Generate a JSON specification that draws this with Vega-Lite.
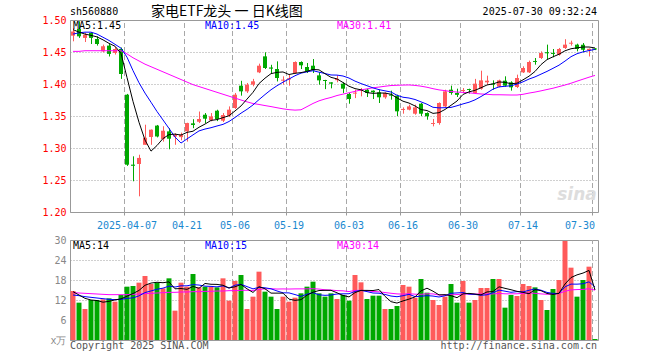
{
"$schema":"https://vega.github.io/schema/vega-lite/v6.json",
"width":528,"height":320,
"autosize":{"type":"none"},
"padding":{"left":70,"top":20,"right":62,"bottom":20},
"background":"white",
"config":{"view":{"stroke":null},"text":{"font":"DejaVu Sans Mono","fontSize":10}},
"datasets":{"k":[
{"d":"2025-03-24","o":1.4755,"h":1.4875,"l":1.4667,"c":1.482,"m5":1.485,"m10":1.478,"m30":1.451,"v":14.7,"v5":14.5,"v10":13.5,"v30":14.2},
{"d":"2025-03-25","o":1.486,"h":1.498,"l":1.472,"c":1.4745,"m5":1.481,"m10":1.48,"m30":1.451,"v":11.2,"v5":13.5,"v10":13.3,"v30":14.1},
{"d":"2025-03-26","o":1.472,"h":1.48,"l":1.4656,"c":1.477,"m5":1.478,"m10":1.481,"m30":1.452,"v":9.3,"v5":12.5,"v10":13.0,"v30":14.0},
{"d":"2025-03-27","o":1.48,"h":1.481,"l":1.4625,"c":1.472,"m5":1.476,"m10":1.481,"m30":1.452,"v":12,"v5":12,"v10":12.8,"v30":13.9},
{"d":"2025-03-28","o":1.4703,"h":1.4745,"l":1.46,"c":1.4625,"m5":1.4736,"m10":1.478,"m30":1.452,"v":12,"v5":11.84,"v10":12.6,"v30":13.8},
{"d":"2025-03-31","o":1.451,"h":1.4615,"l":1.4495,"c":1.459,"m5":1.469,"m10":1.473,"m30":1.452,"v":12.2,"v5":11.34,"v10":12.4,"v30":13.7},
{"d":"2025-04-01","o":1.46,"h":1.4625,"l":1.443,"c":1.447,"m5":1.4635,"m10":1.468,"m30":1.452,"v":12.5,"v5":11.6,"v10":12.2,"v30":13.6},
{"d":"2025-04-02","o":1.4485,"h":1.458,"l":1.446,"c":1.4547,"m5":1.459,"m10":1.462,"m30":1.452,"v":11.5,"v5":12.04,"v10":12.1,"v30":13.6},
{"d":"2025-04-03","o":1.4547,"h":1.457,"l":1.408,"c":1.4156,"m5":1.4478,"m10":1.456,"m30":1.452,"v":13.5,"v5":12.34,"v10":12.2,"v30":13.6},
{"d":"2025-04-07","o":1.3833,"h":1.3845,"l":1.272,"c":1.2739,"m5":1.4101,"m10":1.4419,"m30":1.447,"v":16,"v5":13.14,"v10":12.49,"v30":13.6},
{"d":"2025-04-08","o":1.274,"h":1.287,"l":1.248,"c":1.2722,"m5":1.3728,"m10":1.4209,"m30":1.441,"v":16.2,"v5":13.94,"v10":12.64,"v30":13.7},
{"d":"2025-04-09","o":1.275,"h":1.2895,"l":1.2245,"c":1.2845,"m5":1.3402,"m10":1.4019,"m30":1.436,"v":17.2,"v5":14.88,"v10":13.24,"v30":13.8},
{"d":"2025-04-10","o":1.305,"h":1.3364,"l":1.305,"c":1.316,"m5":1.3125,"m10":1.3858,"m30":1.431,"v":19.2,"v5":16.42,"v10":14.23,"v30":13.9},
{"d":"2025-04-11","o":1.3172,"h":1.329,"l":1.305,"c":1.3286,"m5":1.2951,"m10":1.3715,"m30":1.427,"v":16.8,"v5":17.08,"v10":14.71,"v30":14.0},
{"d":"2025-04-14","o":1.335,"h":1.336,"l":1.3166,"c":1.318,"m5":1.3039,"m10":1.357,"m30":1.423,"v":17.2,"v5":17.32,"v10":15.23,"v30":14.1},
{"d":"2025-04-15","o":1.314,"h":1.334,"l":1.31,"c":1.327,"m5":1.3148,"m10":1.3438,"m30":1.419,"v":15.5,"v5":17.18,"v10":15.56,"v30":14.2},
{"d":"2025-04-16","o":1.326,"h":1.331,"l":1.298,"c":1.3145,"m5":1.3209,"m10":1.3306,"m30":1.415,"v":18.5,"v5":17.44,"v10":16.16,"v30":14.3},
{"d":"2025-04-17","o":1.318,"h":1.323,"l":1.305,"c":1.3205,"m5":1.3217,"m10":1.3171,"m30":1.411,"v":8.8,"v5":15.36,"v10":15.89,"v30":14.3},
{"d":"2025-04-18","o":1.317,"h":1.324,"l":1.312,"c":1.321,"m5":1.3202,"m10":1.3077,"m30":1.407,"v":17.2,"v5":15.44,"v10":16.26,"v30":14.4},
{"d":"2025-04-21","o":1.326,"h":1.3395,"l":1.31,"c":1.339,"m5":1.3244,"m10":1.3142,"m30":1.403,"v":16,"v5":15.2,"v10":16.26,"v30":14.4},
{"d":"2025-04-22","o":1.3385,"h":1.345,"l":1.331,"c":1.336,"m5":1.3262,"m10":1.3205,"m30":1.399,"v":19.8,"v5":16.06,"v10":16.62,"v30":14.5},
{"d":"2025-04-23","o":1.341,"h":1.357,"l":1.339,"c":1.3453,"m5":1.3324,"m10":1.3267,"m30":1.396,"v":15.8,"v5":15.52,"v10":16.48,"v30":14.5},
{"d":"2025-04-24","o":1.352,"h":1.3546,"l":1.339,"c":1.3458,"m5":1.3374,"m10":1.3296,"m30":1.393,"v":16,"v5":16.96,"v10":16.16,"v30":14.6},
{"d":"2025-04-25","o":1.3432,"h":1.3546,"l":1.3417,"c":1.3494,"m5":1.3431,"m10":1.3317,"m30":1.39,"v":16,"v5":16.72,"v10":16.08,"v30":14.6},
{"d":"2025-04-28","o":1.3583,"h":1.3598,"l":1.342,"c":1.3453,"m5":1.3444,"m10":1.3344,"m30":1.387,"v":15.8,"v5":16.68,"v10":15.94,"v30":14.7},
{"d":"2025-04-29","o":1.3427,"h":1.3546,"l":1.3406,"c":1.3515,"m5":1.3475,"m10":1.3369,"m30":1.384,"v":18.5,"v5":16.42,"v10":16.24,"v30":14.7},
{"d":"2025-04-30","o":1.3505,"h":1.365,"l":1.3484,"c":1.3599,"m5":1.3504,"m10":1.3414,"m30":1.381,"v":11.8,"v5":15.62,"v10":15.57,"v30":14.8},
{"d":"2025-05-06","o":1.3625,"h":1.386,"l":1.361,"c":1.3833,"m5":1.3579,"m10":1.3477,"m30":1.378,"v":17.7,"v5":15.96,"v10":16.46,"v30":14.8},
{"d":"2025-05-07","o":1.3974,"h":1.405,"l":1.3818,"c":1.3885,"m5":1.3657,"m10":1.3544,"m30":1.375,"v":19.5,"v5":16.66,"v10":16.69,"v30":14.9},
{"d":"2025-05-08","o":1.3885,"h":1.4016,"l":1.386,"c":1.399,"m5":1.3764,"m10":1.3604,"m30":1.3721,"v":9.3,"v5":15.36,"v10":16.02,"v30":14.92},
{"d":"2025-05-09","o":1.399,"h":1.408,"l":1.3964,"c":1.4042,"m5":1.387,"m10":1.3673,"m30":1.3695,"v":13,"v5":14.26,"v10":15.34,"v30":14.87},
{"d":"2025-05-12","o":1.4182,"h":1.4318,"l":1.417,"c":1.4286,"m5":1.4007,"m10":1.3756,"m30":1.368,"v":20.5,"v5":16,"v10":15.81,"v30":15.18},
{"d":"2025-05-13","o":1.4432,"h":1.4495,"l":1.4234,"c":1.425,"m5":1.4091,"m10":1.3835,"m30":1.3663,"v":14.5,"v5":15.36,"v10":15.66,"v30":15.35},
{"d":"2025-05-14","o":1.4258,"h":1.43,"l":1.417,"c":1.424,"m5":1.4162,"m10":1.391,"m30":1.3647,"v":13,"v5":14.06,"v10":15.36,"v30":15.38},
{"d":"2025-05-15","o":1.4234,"h":1.4354,"l":1.404,"c":1.4094,"m5":1.4182,"m10":1.3973,"m30":1.3629,"v":9.3,"v5":14.06,"v10":14.71,"v30":15.29},
{"d":"2025-05-16","o":1.4052,"h":1.412,"l":1.399,"c":1.4068,"m5":1.4188,"m10":1.4029,"m30":1.3612,"v":13,"v5":14.06,"v10":14.16,"v30":15.32},
{"d":"2025-05-19","o":1.407,"h":1.4146,"l":1.3974,"c":1.409,"m5":1.4148,"m10":1.4078,"m30":1.3599,"v":11.5,"v5":12.26,"v10":14.13,"v30":15.29},
{"d":"2025-05-20","o":1.4172,"h":1.4354,"l":1.4161,"c":1.4344,"m5":1.4167,"m10":1.4129,"m30":1.3592,"v":12.7,"v5":11.9,"v10":13.63,"v30":15.33},
{"d":"2025-05-21","o":1.4344,"h":1.4354,"l":1.4234,"c":1.4292,"m5":1.4178,"m10":1.417,"m30":1.3597,"v":14,"v5":12.1,"v10":13.08,"v30":15.34},
{"d":"2025-05-22","o":1.4266,"h":1.4328,"l":1.4172,"c":1.4198,"m5":1.4198,"m10":1.419,"m30":1.3646,"v":16,"v5":13.44,"v10":13.75,"v30":15.34},
{"d":"2025-05-23","o":1.4286,"h":1.439,"l":1.4172,"c":1.4213,"m5":1.4227,"m10":1.4208,"m30":1.3696,"v":17.5,"v5":14.34,"v10":14.2,"v30":15.39},
{"d":"2025-05-26","o":1.4135,"h":1.4187,"l":1.399,"c":1.4057,"m5":1.4221,"m10":1.4185,"m30":1.3737,"v":14,"v5":14.84,"v10":13.55,"v30":15.28},
{"d":"2025-05-27","o":1.4062,"h":1.4065,"l":1.392,"c":1.4047,"m5":1.4161,"m10":1.4164,"m30":1.3766,"v":13,"v5":14.9,"v10":13.4,"v30":15.07},
{"d":"2025-05-28","o":1.4026,"h":1.4026,"l":1.3932,"c":1.4005,"m5":1.4104,"m10":1.4141,"m30":1.379,"v":14,"v5":14.9,"v10":13.5,"v30":14.98},
{"d":"2025-05-29","o":1.406,"h":1.4135,"l":1.4026,"c":1.408,"m5":1.408,"m10":1.4139,"m30":1.382,"v":12.3,"v5":14.16,"v10":13.8,"v30":14.82},
{"d":"2025-05-30","o":1.4005,"h":1.4026,"l":1.386,"c":1.3927,"m5":1.4023,"m10":1.4125,"m30":1.3842,"v":13.5,"v5":13.36,"v10":13.85,"v30":14.75},
{"d":"2025-06-03","o":1.3844,"h":1.386,"l":1.3692,"c":1.3765,"m5":1.3965,"m10":1.4093,"m30":1.3863,"v":11.8,"v5":12.92,"v10":13.88,"v30":14.53},
{"d":"2025-06-04","o":1.385,"h":1.3911,"l":1.378,"c":1.3865,"m5":1.3928,"m10":1.4045,"m30":1.3885,"v":19.5,"v5":14.22,"v10":14.56,"v30":14.88},
{"d":"2025-06-05","o":1.3895,"h":1.3937,"l":1.3807,"c":1.391,"m5":1.3909,"m10":1.4007,"m30":1.3908,"v":17.3,"v5":14.88,"v10":14.89,"v30":14.89},
{"d":"2025-06-06","o":1.3911,"h":1.3927,"l":1.3797,"c":1.386,"m5":1.3865,"m10":1.3973,"m30":1.3924,"v":12.3,"v5":14.88,"v10":14.52,"v30":14.76},
{"d":"2025-06-09","o":1.3896,"h":1.39,"l":1.3765,"c":1.387,"m5":1.3854,"m10":1.3939,"m30":1.3941,"v":13.3,"v5":14.84,"v10":14.1,"v30":14.55},
{"d":"2025-06-10","o":1.387,"h":1.3911,"l":1.3703,"c":1.3792,"m5":1.3859,"m10":1.3912,"m30":1.3952,"v":13.3,"v5":15.14,"v10":14.03,"v30":14.46},
{"d":"2025-06-11","o":1.3792,"h":1.387,"l":1.377,"c":1.386,"m5":1.3858,"m10":1.3893,"m30":1.3965,"v":9.3,"v5":13.1,"v10":13.66,"v30":14.24},
{"d":"2025-06-12","o":1.3835,"h":1.3896,"l":1.3755,"c":1.3818,"m5":1.384,"m10":1.3875,"m30":1.3976,"v":9.3,"v5":11.5,"v10":13.19,"v30":14.02},
{"d":"2025-06-13","o":1.3818,"h":1.3833,"l":1.35,"c":1.3573,"m5":1.3783,"m10":1.3824,"m30":1.398,"v":10.2,"v5":11.08,"v10":12.98,"v30":13.83},
{"d":"2025-06-16","o":1.3595,"h":1.3635,"l":1.3536,"c":1.361,"m5":1.3731,"m10":1.3793,"m30":1.3983,"v":16.5,"v5":11.72,"v10":13.28,"v30":13.76},
{"d":"2025-06-17","o":1.3599,"h":1.3677,"l":1.3588,"c":1.365,"m5":1.3702,"m10":1.3781,"m30":1.3985,"v":16,"v5":12.26,"v10":13.7,"v30":13.9},
{"d":"2025-06-18","o":1.3536,"h":1.3677,"l":1.352,"c":1.3635,"m5":1.3657,"m10":1.3758,"m30":1.3978,"v":12.7,"v5":12.94,"v10":13.02,"v30":13.74},
{"d":"2025-06-19","o":1.3692,"h":1.3703,"l":1.35,"c":1.3536,"m5":1.3601,"m10":1.3721,"m30":1.3966,"v":18.3,"v5":14.74,"v10":13.12,"v30":13.7},
{"d":"2025-06-20","o":1.3547,"h":1.3557,"l":1.3442,"c":1.3495,"m5":1.3585,"m10":1.3684,"m30":1.3949,"v":14.2,"v5":15.54,"v10":13.31,"v30":13.86},
{"d":"2025-06-23","o":1.3375,"h":1.3453,"l":1.3338,"c":1.339,"m5":1.3541,"m10":1.3636,"m30":1.3927,"v":12,"v5":14.64,"v10":13.18,"v30":13.83},
{"d":"2025-06-24","o":1.339,"h":1.3713,"l":1.3364,"c":1.3703,"m5":1.3552,"m10":1.3627,"m30":1.3908,"v":10.5,"v5":13.54,"v10":12.9,"v30":13.49},
{"d":"2025-06-25","o":1.365,"h":1.3911,"l":1.364,"c":1.3885,"m5":1.3602,"m10":1.363,"m30":1.3896,"v":13,"v5":13.6,"v10":13.27,"v30":13.44},
{"d":"2025-06-26","o":1.3911,"h":1.3974,"l":1.3833,"c":1.386,"m5":1.3667,"m10":1.3634,"m30":1.3883,"v":16.8,"v5":13.3,"v10":14.02,"v30":13.57},
{"d":"2025-06-27","o":1.386,"h":1.3927,"l":1.3797,"c":1.383,"m5":1.3734,"m10":1.366,"m30":1.3874,"v":11.2,"v5":12.7,"v10":14.12,"v30":13.63},
{"d":"2025-06-30","o":1.389,"h":1.3937,"l":1.386,"c":1.3906,"m5":1.3837,"m10":1.3689,"m30":1.3869,"v":17.7,"v5":13.84,"v10":14.24,"v30":13.79},
{"d":"2025-07-01","o":1.3921,"h":1.3927,"l":1.385,"c":1.3906,"m5":1.3877,"m10":1.3715,"m30":1.3863,"v":11.2,"v5":13.98,"v10":13.76,"v30":13.78},
{"d":"2025-07-02","o":1.386,"h":1.408,"l":1.385,"c":1.4005,"m5":1.3901,"m10":1.3752,"m30":1.3852,"v":12,"v5":13.78,"v10":13.69,"v30":13.76},
{"d":"2025-07-03","o":1.3927,"h":1.4208,"l":1.3911,"c":1.4057,"m5":1.3941,"m10":1.3804,"m30":1.3844,"v":15.6,"v5":13.54,"v10":13.42,"v30":13.81},
{"d":"2025-07-04","o":1.4026,"h":1.413,"l":1.399,"c":1.4052,"m5":1.3985,"m10":1.386,"m30":1.3839,"v":15.6,"v5":14.42,"v10":13.56,"v30":13.8},
{"d":"2025-07-07","o":1.4005,"h":1.4057,"l":1.3911,"c":1.399,"m5":1.4002,"m10":1.392,"m30":1.3832,"v":18.3,"v5":14.54,"v10":14.19,"v30":13.82},
{"d":"2025-07-08","o":1.3958,"h":1.4068,"l":1.3948,"c":1.4057,"m5":1.4032,"m10":1.3955,"m30":1.3832,"v":18.3,"v5":15.96,"v10":14.97,"v30":13.97},
{"d":"2025-07-09","o":1.4052,"h":1.412,"l":1.3958,"c":1.3974,"m5":1.4026,"m10":1.3964,"m30":1.383,"v":9.7,"v5":15.5,"v10":14.64,"v30":13.86},
{"d":"2025-07-10","o":1.4026,"h":1.4042,"l":1.3896,"c":1.3948,"m5":1.4004,"m10":1.3973,"m30":1.3828,"v":13.5,"v5":15.08,"v10":14.31,"v30":13.84},
{"d":"2025-07-11","o":1.3953,"h":1.4146,"l":1.3937,"c":1.4094,"m5":1.4013,"m10":1.3999,"m30":1.3828,"v":13.2,"v5":14.6,"v10":14.51,"v30":13.87},
{"d":"2025-07-14","o":1.4182,"h":1.4276,"l":1.4172,"c":1.425,"m5":1.4065,"m10":1.4034,"m30":1.3839,"v":16.8,"v5":14.3,"v10":14.42,"v30":13.98},
{"d":"2025-07-15","o":1.4182,"h":1.4365,"l":1.4172,"c":1.4344,"m5":1.4122,"m10":1.4077,"m30":1.3858,"v":16.2,"v5":13.88,"v10":14.92,"v30":14.13},
{"d":"2025-07-16","o":1.436,"h":1.4406,"l":1.4302,"c":1.4345,"m5":1.4196,"m10":1.4111,"m30":1.3874,"v":15.8,"v5":15.1,"v10":15.3,"v30":14.0},
{"d":"2025-07-17","o":1.4406,"h":1.451,"l":1.439,"c":1.4484,"m5":1.4303,"m10":1.4154,"m30":1.3893,"v":12,"v5":14.8,"v10":14.94,"v30":13.83},
{"d":"2025-07-18","o":1.4497,"h":1.4615,"l":1.439,"c":1.448,"m5":1.4381,"m10":1.4197,"m30":1.3914,"v":9,"v5":13.96,"v10":14.28,"v30":13.72},
{"d":"2025-07-21","o":1.4486,"h":1.4547,"l":1.4417,"c":1.447,"m5":1.4425,"m10":1.4245,"m30":1.3934,"v":15.3,"v5":13.66,"v10":13.98,"v30":13.78},
{"d":"2025-07-22","o":1.4458,"h":1.4563,"l":1.4443,"c":1.4547,"m5":1.4465,"m10":1.4294,"m30":1.3959,"v":18,"v5":14.02,"v10":13.95,"v30":13.94},
{"d":"2025-07-23","o":1.4563,"h":1.47,"l":1.4547,"c":1.4615,"m5":1.4519,"m10":1.4358,"m30":1.3984,"v":29.7,"v5":16.8,"v10":15.95,"v30":14.62},
{"d":"2025-07-24","o":1.463,"h":1.4677,"l":1.46,"c":1.4645,"m5":1.4551,"m10":1.4427,"m30":1.4012,"v":21.7,"v5":18.74,"v10":16.77,"v30":15.03},
{"d":"2025-07-25","o":1.4615,"h":1.463,"l":1.451,"c":1.4547,"m5":1.4565,"m10":1.4473,"m30":1.4044,"v":13,"v5":19.54,"v10":16.75,"v30":15.13},
{"d":"2025-07-28","o":1.4615,"h":1.464,"l":1.4495,"c":1.4536,"m5":1.4578,"m10":1.4502,"m30":1.4075,"v":18,"v5":20.08,"v10":16.87,"v30":15.18},
{"d":"2025-07-29","o":1.4525,"h":1.4555,"l":1.443,"c":1.455,"m5":1.4578,"m10":1.4522,"m30":1.4106,"v":22,"v5":20.88,"v10":17.45,"v30":15.38},
{"d":"2025-07-30","o":1.4555,"h":1.456,"l":1.453,"c":1.454,"m5":1.4563,"m10":1.4541,"m30":1.4134,"v":0.3,"v5":15,"v10":15.9,"v30":14.96}
]},
"data":{"name":"k"},
"resolve":{"scale":{"y":"independent"},"axis":{"x":"independent","y":"independent"}},
"layer":[
{"transform":[{"filter":{"field":"d","oneOf":["2025-04-07","2025-04-21","2025-05-06","2025-05-19","2025-06-03","2025-06-16","2025-06-30","2025-07-14","2025-07-30"]}}],
 "mark":{"type":"rule","strokeDash":[5,3],"color":"#a8a8a8","strokeWidth":1,"xOffset":0.5},
 "encoding":{
  "x":{"field":"d","type":"ordinal","bandPosition":0,"scale":{"paddingInner":0,"paddingOuter":0},
       "axis":{"orient":"bottom","offset":-128,"values":["2025-04-07","2025-04-21","2025-05-06","2025-05-19","2025-06-03","2025-06-16","2025-06-30","2025-07-14","2025-07-30"],"bandPosition":0,"labelExpr":"datum.value == '2025-04-07' ? datum.value : slice(datum.value, 5)","labelAngle":0,"labelColor":"#1a88d0","labelFont":"DejaVu Sans Mono","labelFontSize":10,"labelPadding":5,"labelFlush":7,"labelOverlap":false,"ticks":true,"tickSize":3,"tickColor":"#999","domain":true,"domainColor":"#999","grid":false,"title":null}},
  "y":{"datum":1.2,"type":"quantitative","scale":{"domain":[1.2,1.5],"range":[192,0],"nice":false,"zero":false},
       "axis":{"orient":"left","values":[1.2,1.25,1.3,1.35,1.4,1.45,1.5],"format":".2f","labelColor":"#ff0000","labelFont":"DejaVu Sans Mono","labelFontSize":10,"labelPadding":4,"ticks":false,"domain":true,"domainColor":"#999","grid":true,"gridColor":"#a0a0a0","gridDash":[1,2],"title":null}},
  "y2":{"datum":1.5}}},
{"mark":{"type":"rule","strokeWidth":1,"xOffset":0.5},
 "encoding":{
  "x":{"field":"d","type":"ordinal","scale":{"paddingInner":0,"paddingOuter":0},"axis":{"orient":"top","labels":false,"ticks":false,"domain":true,"domainColor":"#999","grid":false,"title":null}},
  "y":{"field":"l","type":"quantitative","scale":{"domain":[1.2,1.5],"range":[192,0],"nice":false,"zero":false},"axis":{"orient":"right","labels":false,"ticks":false,"domain":true,"domainColor":"#999","grid":false,"title":null}},
  "y2":{"field":"h"},
  "color":{"condition":{"test":"datum.c >= datum.o","value":"#ff5a5a"},"value":"#00a800"}}},
{"mark":{"type":"bar","width":{"band":0.67}},
 "encoding":{
  "x":{"field":"d","type":"ordinal","scale":{"paddingInner":0,"paddingOuter":0},"axis":null},
  "y":{"field":"o","type":"quantitative","scale":{"domain":[1.2,1.5],"range":[192,0],"nice":false,"zero":false},"axis":null},
  "y2":{"field":"c"},
  "color":{"condition":{"test":"datum.c >= datum.o","value":"#ff5a5a"},"value":"#00a800"}}},
{"mark":{"type":"line","strokeWidth":1,"color":"#ff00ff"},
 "encoding":{"x":{"field":"d","type":"ordinal","scale":{"paddingInner":0,"paddingOuter":0},"axis":null},
  "y":{"field":"m30","type":"quantitative","scale":{"domain":[1.2,1.5],"range":[192,0],"nice":false,"zero":false},"axis":null}}},
{"mark":{"type":"line","strokeWidth":1,"color":"#0000ff"},
 "encoding":{"x":{"field":"d","type":"ordinal","scale":{"paddingInner":0,"paddingOuter":0},"axis":null},
  "y":{"field":"m10","type":"quantitative","scale":{"domain":[1.2,1.5],"range":[192,0],"nice":false,"zero":false},"axis":null}}},
{"mark":{"type":"line","strokeWidth":1,"color":"#000000"},
 "encoding":{"x":{"field":"d","type":"ordinal","scale":{"paddingInner":0,"paddingOuter":0},"axis":null},
  "y":{"field":"m5","type":"quantitative","scale":{"domain":[1.2,1.5],"range":[192,0],"nice":false,"zero":false},"axis":null}}},
{"transform":[{"filter":{"field":"d","oneOf":["2025-04-07","2025-04-21","2025-05-06","2025-05-19","2025-06-03","2025-06-16","2025-06-30","2025-07-14","2025-07-30"]}}],
 "mark":{"type":"rule","strokeDash":[5,3],"color":"#a8a8a8","strokeWidth":1,"xOffset":0.5},
 "encoding":{
  "x":{"field":"d","type":"ordinal","bandPosition":0,"scale":{"paddingInner":0,"paddingOuter":0},"axis":{"orient":"bottom","labels":false,"ticks":false,"domain":true,"domainColor":"#999","grid":false,"title":null}},
  "y":{"datum":0,"type":"quantitative","scale":{"domain":[0,30],"range":[320,220],"nice":false,"zero":true},
       "axis":{"orient":"left","values":[0,6,12,18,24,30],"labelExpr":"datum.value == 0 ? 'x万' : datum.label","labelColor":"#888888","labelFont":"DejaVu Sans Mono","labelFontSize":10,"labelPadding":4,"ticks":false,"domain":true,"domainColor":"#999","grid":true,"gridColor":"#a0a0a0","gridDash":[1,2],"title":null}},
  "y2":{"datum":30}}},
{"mark":{"type":"bar","width":{"band":0.83}},
 "encoding":{
  "x":{"field":"d","type":"ordinal","scale":{"paddingInner":0,"paddingOuter":0},"axis":{"orient":"top","offset":-220,"labels":false,"ticks":false,"domain":true,"domainColor":"#999","grid":false,"title":null}},
  "y":{"field":"v","type":"quantitative","scale":{"domain":[0,30],"range":[320,220],"nice":false,"zero":true},"axis":{"orient":"right","labels":false,"ticks":false,"domain":true,"domainColor":"#999","grid":false,"title":null}},
  "color":{"condition":{"test":"datum.c >= datum.o","value":"#ff5a5a"},"value":"#00a800"}}},
{"mark":{"type":"line","strokeWidth":1,"color":"#ff00ff"},
 "encoding":{"x":{"field":"d","type":"ordinal","scale":{"paddingInner":0,"paddingOuter":0},"axis":null},
  "y":{"field":"v30","type":"quantitative","scale":{"domain":[0,30],"range":[320,220],"nice":false,"zero":true},"axis":null}}},
{"mark":{"type":"line","strokeWidth":1,"color":"#0000ff"},
 "encoding":{"x":{"field":"d","type":"ordinal","scale":{"paddingInner":0,"paddingOuter":0},"axis":null},
  "y":{"field":"v10","type":"quantitative","scale":{"domain":[0,30],"range":[320,220],"nice":false,"zero":true},"axis":null}}},
{"mark":{"type":"line","strokeWidth":1,"color":"#000000"},
 "encoding":{"x":{"field":"d","type":"ordinal","scale":{"paddingInner":0,"paddingOuter":0},"axis":null},
  "y":{"field":"v5","type":"quantitative","scale":{"domain":[0,30],"range":[320,220],"nice":false,"zero":true},"axis":null}}},
{"data":{"values":[{}]},"mark":{"type":"text","align":"left","baseline":"middle","dx":-3,"font":"DejaVu Sans Mono","fontSize":10,"color":"#000"},
 "encoding":{"x":{"datum":"2025-03-24","type":"ordinal","scale":{"paddingInner":0,"paddingOuter":0},"axis":null},
  "y":{"datum":1.5125,"type":"quantitative","scale":{"domain":[1.2,1.5],"range":[192,0],"nice":false,"zero":false},"axis":null},
  "text":{"value":"sh560880"}}},
{"data":{"values":[{}]},"mark":{"type":"text","align":"left","baseline":"middle","font":"Noto Sans CJK SC","fontSize":14,"color":"#000"},
 "encoding":{"x":{"datum":"2025-04-11","type":"ordinal","scale":{"paddingInner":0,"paddingOuter":0},"axis":null},
  "y":{"datum":1.5125,"type":"quantitative","scale":{"domain":[1.2,1.5],"range":[192,0],"nice":false,"zero":false},"axis":null},
  "text":{"value":"家电ETF龙头 一 日K线图"}}},
{"data":{"values":[{}]},"mark":{"type":"text","align":"right","baseline":"middle","dx":2,"font":"DejaVu Sans Mono","fontSize":10,"color":"#000"},
 "encoding":{"x":{"datum":"2025-07-30","type":"ordinal","scale":{"paddingInner":0,"paddingOuter":0},"axis":null},
  "y":{"datum":1.5125,"type":"quantitative","scale":{"domain":[1.2,1.5],"range":[192,0],"nice":false,"zero":false},"axis":null},
  "text":{"value":"2025-07-30 09:32:24"}}},
{"data":{"values":[{}]},"mark":{"type":"text","align":"left","baseline":"middle","font":"DejaVu Sans Mono","fontSize":10,"color":"#000000"},
 "encoding":{"x":{"datum":"2025-03-24","type":"ordinal","scale":{"paddingInner":0,"paddingOuter":0},"axis":null},
  "y":{"datum":1.4906,"type":"quantitative","scale":{"domain":[1.2,1.5],"range":[192,0],"nice":false,"zero":false},"axis":null},
  "text":{"value":"MA5:1.45"}}},
{"data":{"values":[{}]},"mark":{"type":"text","align":"left","baseline":"middle","font":"DejaVu Sans Mono","fontSize":10,"color":"#0000ff"},
 "encoding":{"x":{"datum":"2025-04-24","type":"ordinal","scale":{"paddingInner":0,"paddingOuter":0},"axis":null},
  "y":{"datum":1.4906,"type":"quantitative","scale":{"domain":[1.2,1.5],"range":[192,0],"nice":false,"zero":false},"axis":null},
  "text":{"value":"MA10:1.45"}}},
{"data":{"values":[{}]},"mark":{"type":"text","align":"left","baseline":"middle","font":"DejaVu Sans Mono","fontSize":10,"color":"#ff00ff"},
 "encoding":{"x":{"datum":"2025-05-29","type":"ordinal","scale":{"paddingInner":0,"paddingOuter":0},"axis":null},
  "y":{"datum":1.4906,"type":"quantitative","scale":{"domain":[1.2,1.5],"range":[192,0],"nice":false,"zero":false},"axis":null},
  "text":{"value":"MA30:1.41"}}},
{"data":{"values":[{}]},"mark":{"type":"text","align":"left","baseline":"middle","font":"DejaVu Sans Mono","fontSize":10,"color":"#000000"},
 "encoding":{"x":{"datum":"2025-03-24","type":"ordinal","scale":{"paddingInner":0,"paddingOuter":0},"axis":null},
  "y":{"datum":28.35,"type":"quantitative","scale":{"domain":[0,30],"range":[320,220],"nice":false,"zero":true},"axis":null},
  "text":{"value":"MA5:14"}}},
{"data":{"values":[{}]},"mark":{"type":"text","align":"left","baseline":"middle","font":"DejaVu Sans Mono","fontSize":10,"color":"#0000ff"},
 "encoding":{"x":{"datum":"2025-04-24","type":"ordinal","scale":{"paddingInner":0,"paddingOuter":0},"axis":null},
  "y":{"datum":28.35,"type":"quantitative","scale":{"domain":[0,30],"range":[320,220],"nice":false,"zero":true},"axis":null},
  "text":{"value":"MA10:15"}}},
{"data":{"values":[{}]},"mark":{"type":"text","align":"left","baseline":"middle","font":"DejaVu Sans Mono","fontSize":10,"color":"#ff00ff"},
 "encoding":{"x":{"datum":"2025-05-29","type":"ordinal","scale":{"paddingInner":0,"paddingOuter":0},"axis":null},
  "y":{"datum":28.35,"type":"quantitative","scale":{"domain":[0,30],"range":[320,220],"nice":false,"zero":true},"axis":null},
  "text":{"value":"MA30:14"}}},
{"data":{"values":[{}]},"mark":{"type":"text","align":"left","baseline":"middle","dx":-3,"font":"DejaVu Sans Mono","fontSize":10,"color":"#555555"},
 "encoding":{"x":{"datum":"2025-03-24","type":"ordinal","scale":{"paddingInner":0,"paddingOuter":0},"axis":null},
  "y":{"datum":-1.8,"type":"quantitative","scale":{"domain":[0,30],"range":[320,220],"nice":false,"zero":true},"axis":null},
  "text":{"value":"Copyright 2025 SINA.COM"}}},
{"data":{"values":[{}]},"mark":{"type":"text","align":"right","baseline":"middle","dx":2,"font":"DejaVu Sans Mono","fontSize":10,"color":"#555555"},
 "encoding":{"x":{"datum":"2025-07-30","type":"ordinal","scale":{"paddingInner":0,"paddingOuter":0},"axis":null},
  "y":{"datum":-1.8,"type":"quantitative","scale":{"domain":[0,30],"range":[320,220],"nice":false,"zero":true},"axis":null},
  "text":{"value":"http://finance.sina.com.cn"}}},
{"data":{"values":[{}]},"mark":{"type":"text","align":"center","baseline":"middle","font":"DejaVu Sans","fontSize":17,"fontStyle":"italic","fontWeight":"bold","color":"#dddddd"},
 "encoding":{"x":{"datum":"2025-07-25","type":"ordinal","scale":{"paddingInner":0,"paddingOuter":0},"axis":null},
  "y":{"datum":1.226,"type":"quantitative","scale":{"domain":[1.2,1.5],"range":[192,0],"nice":false,"zero":false},"axis":null},
  "text":{"value":"sina"}}}
]
}
